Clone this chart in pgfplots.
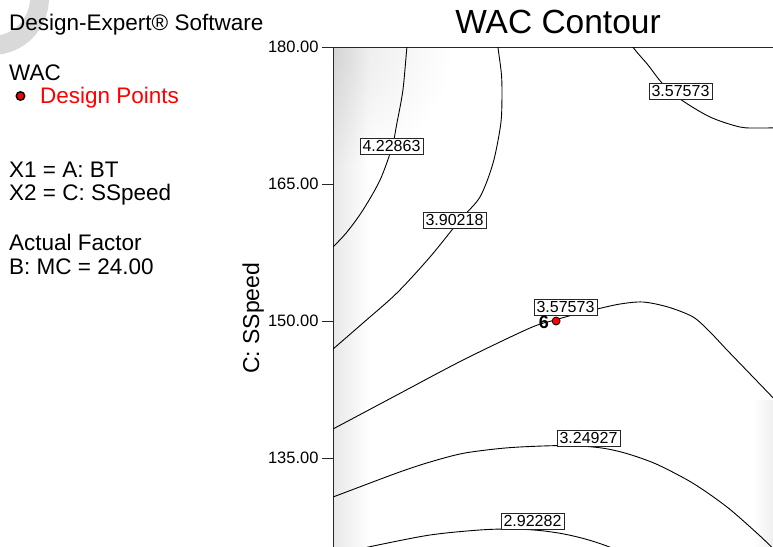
\documentclass[border=0pt]{standalone}
\usepackage{fontspec}
\setmainfont{Liberation Sans}
\usepackage{pgfplots}
\pgfplotsset{compat=1.18}
\begin{document}
\begin{tikzpicture}[x=1pt,y=1pt]
\useasboundingbox (0,0) rectangle (773,-546);
\clip (0,0) rectangle (773,-546);
% watermark ring
\fill[black!15, even odd rule] (-8,2) circle (57) (-8,2) circle (38);
% background shading inside plot area
\begin{scope}
\clip (333,-47) rectangle (777,-595);
\shade[inner color=black!9, outer color=white] (333,-47) circle (120);
\begin{scope}[blend mode=multiply]
\shade[left color=black!9, right color=white] (333,-47) rectangle (370,-600);
\shade[left color=white, right color=black!7] (752,-400) rectangle (777,-600);
\end{scope}
\end{scope}
% left side text
\begin{scope}[every node/.style={anchor=base west, inner sep=0pt, font=\fontsize{22.5}{26}\selectfont}]
\node at (9,-30) {Design-Expert® Software};
\node at (9,-80) {WAC};
\node[text=red] at (40,-103) {Design Points};
\node at (9,-177) {X1 = A: BT};
\node at (9,-200) {X2 = C: SSpeed};
\node at (9,-250) {Actual Factor};
\node at (9,-274) {B: MC = 24.00};
\end{scope}
\filldraw[fill=red, draw=black, line width=1.5pt] (20.5,-96) circle (4.2);
\node[anchor=base, inner sep=0pt, font=\fontsize{33.5}{38}\selectfont] at (558,-33) {WAC Contour};
\begin{axis}[
  at={(333pt,-47pt)}, anchor=north west,
  scale only axis, width=444pt, height=548pt,
  xmin=-1, xmax=1, ymin=120, ymax=180,
  xtick=\empty,
  ytick={135,150,165,180},
  ytick pos=left, tick align=outside, major tick length=11pt,
  /pgf/number format/assume math mode=true,
  yticklabel style={/pgf/number format/fixed, /pgf/number format/precision=2, /pgf/number format/fixed zerofill, font=\fontsize{16.5}{19}\selectfont},
  axis line style={line width=0.9pt, black!85},
  tick style={line width=0.9pt, black!85},
  ylabel={C: SSpeed},
  ylabel style={at={(axis description cs:-0.180,0.505)}, anchor=center, font=\fontsize{23}{27}\selectfont},
  contour/.style={black, no markers, line width=0.9pt, smooth},
]
% 4.22863
\addplot[contour] coordinates {(-0.660,181) (-0.667,180) (-0.685,175.29) (-0.712,171.68) (-0.734,169.05) (-0.788,165.44) (-0.865,162.15) (-0.937,159.74) (-1,158.10) (-1.05,156.9)};
% 3.90218
\addplot[contour] coordinates {(-0.259,181) (-0.257,180) (-0.241,176.93) (-0.239,174.20) (-0.245,171.46) (-0.279,167.30) (-0.338,163.58) (-0.428,161.06) (-0.563,157.01) (-0.712,153.07) (-0.865,149.78) (-1,146.93) (-1.05,145.9)};
% 3.57573 (middle)
\addplot[contour] coordinates {(-1.05,137.6) (-1,138.18) (-0.712,141.90) (-0.414,145.73) (-0.113,149.23) (0,150.11) (0.113,150.88) (0.189,151.31) (0.293,151.86) (0.396,152.08) (0.509,151.53) (0.622,150.44) (0.698,148.80) (0.775,146.82) (0.892,143.87) (1,141.13) (1.05,139.7)};
% 3.57573 (top right)
\addplot[contour] coordinates {(0.345,181) (0.351,180) (0.419,178.03) (0.482,176.06) (0.563,174.31) (0.698,172.34) (0.833,171.24) (0.923,171.13) (1,171.16)};
% 3.24927
\addplot[contour] coordinates {(-1.05,130.3) (-1,130.73) (-0.712,133.36) (-0.563,134.56) (-0.414,135.51) (-0.248,136.04) (-0.113,136.26) (0.068,136.37) (0.203,136.12) (0.293,135.69) (0.383,135.02) (0.473,134.15) (0.622,132.23) (0.775,129.63) (0.923,126.48) (1,124.64)};
% 2.92282
\addplot[contour] coordinates {(-1,124.38) (-0.820,125.36) (-0.563,126.57) (-0.338,127.12) (-0.189,127.23) (-0.068,127.06) (0.036,126.70) (0.135,126.14) (0.234,125.36) (0.383,123.88)};
% contour labels
\begin{scope}[every node/.style={draw=black!85, line width=0.7pt, fill=white, inner xsep=2.5pt, inner ysep=2.3pt, font=\fontsize{16}{19}\selectfont}]
\node at (axis cs:-0.7365,169.16) {4.22863};
\node at (axis cs:-0.4527,161.06) {3.90218};
\node at (axis cs:0.0473,151.53) {3.57573};
\node at (axis cs:0.5653,175.13) {3.57573};
\node at (axis cs:0.1509,137.19) {3.24927};
\node at (axis cs:-0.1014,128.05) {2.92282};
\end{scope}
% design point
\addplot[only marks, mark=*, mark size=4pt, mark options={fill=red, draw=black, line width=0.8pt}] coordinates {(0.005,150)};
\node[font=\bfseries\fontsize{18}{21}\selectfont, inner sep=0pt] at (axis cs:-0.050,149.9) {6};
\end{axis}
\end{tikzpicture}
\end{document}
